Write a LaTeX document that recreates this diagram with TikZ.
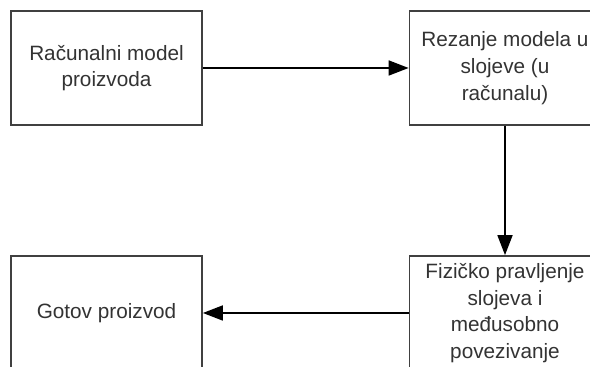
\documentclass[tikz,border=0pt]{standalone}
\usepackage{fontspec}
\setmainfont{Liberation Sans}
\usetikzlibrary{arrows.meta}

\definecolor{LineColor}{rgb}{0.25,0.25,0.25}
\definecolor{TextColor}{rgb}{0.2,0.2,0.2}
\tikzstyle{proc-base}=[rectangle,
                        draw=LineColor,
                        line width=1pt,
                        fill=white,
                        text=TextColor,
                        text centered,
                        align=center,
                        font=\fontsize{11.8}{15.2}\selectfont
                       ]
\tikzstyle{proc}=[proc-base,
                   minimum width=3.82cm,
                   minimum height=2.28cm]
\tikzstyle{flow}=[draw=black, line width=1pt,
                   -{Triangle[length=0.4cm,width=0.3cm]}]

\begin{document}
\begin{tikzpicture}
    \useasboundingbox (0,0) rectangle (11.8,-7.34);
    \clip (0,0) rectangle (11.8,-7.34);
    % Steps
    % --------------------------------------------------------------------------
    \node at ( 2.13, -1.36) (model)  [proc] {Računalni model\\ proizvoda};
    \node at (10.10, -1.36) (slicing) [proc] {Rezanje modela u\\ slojeve (u\\ računalu)};
    \node at (10.10, -6.26) (build)  [proc] {Fizičko pravljenje\\ slojeva i\\ međusobno\\ povezivanje};
    \node at ( 2.13, -6.26) (product) [proc] {Gotov proizvod};

    % Arrows
    % --------------------------------------------------------------------------
    \draw[flow] (model)   -- (slicing);
    \draw[flow] (slicing) -- (build);
    \draw[flow] (build)   -- (product);
\end{tikzpicture}
\end{document}
